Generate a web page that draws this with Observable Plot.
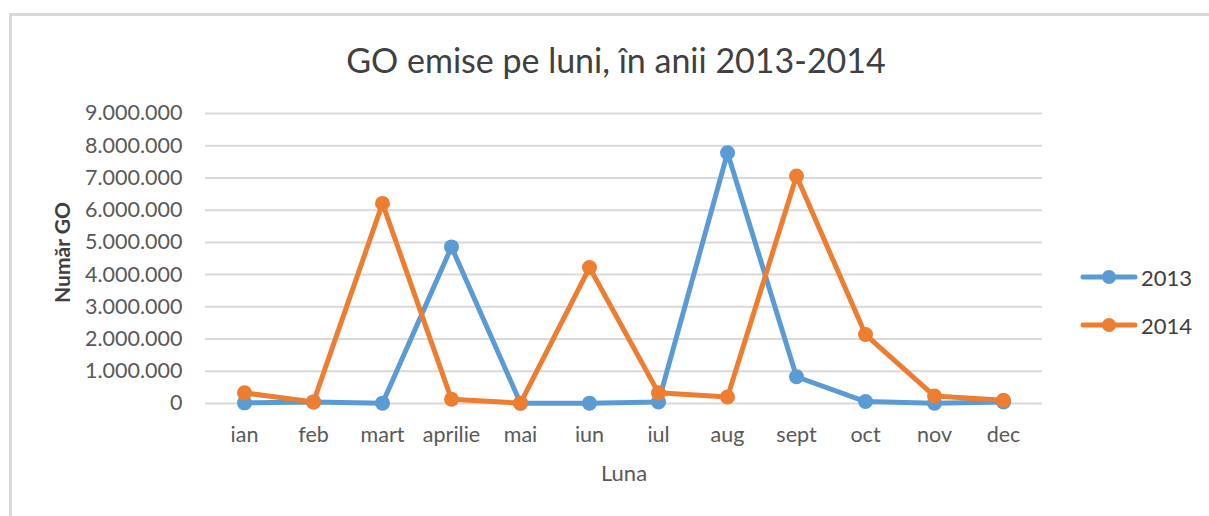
<!DOCTYPE html>
<html>
<head>
<meta charset="utf-8">
<script src="https://cdn.jsdelivr.net/npm/d3@7"></script>
<script src="https://cdn.jsdelivr.net/npm/@observablehq/plot@0.6"></script>
<style>
  html, body { margin: 0; padding: 0; background: #fff; }
  body { width: 1209px; height: 516px; position: relative; overflow: hidden; font-family: Lato, "Open Sans", sans-serif; }
  #frame { position: absolute; left: 9px; top: 13px; width: 1300px; height: 600px; border-top: 3px solid #d9d9d9; border-left: 3px solid #d9d9d9; box-sizing: border-box; }
  #title { position: absolute; left: 0; width: 1232px; top: 43px; text-align: center; font-size: 34px; color: #404040; line-height: 1; }
  #chart { position: absolute; left: 0; top: 0; }
  #legend { position: absolute; left: 1080px; top: 253px; font-size: 22px; color: #404040; }
  .item { display: flex; align-items: center; height: 48px; }
  .item svg { margin-right: 3px; }
</style>
</head>
<body>
<div id="frame"></div>
<div id="title">GO emise pe luni, în anii 2013-2014</div>
<div id="chart"></div>
<div id="legend"></div>
<script>
const months = ["ian","feb","mart","aprilie","mai","iun","iul","aug","sept","oct","nov","dec"];
const series = ["2013","2014"];
const values2013 = [20000, 50000, 10000, 4860000, 10000, 10000, 50000, 7780000, 830000, 60000, 10000, 50000];
const values2014 = [330000, 50000, 6210000, 130000, 10000, 4220000, 330000, 200000, 7060000, 2140000, 230000, 100000];
const colors = ["#5B9BD5", "#ED7D31"];
const yTicks = [0,1000000,2000000,3000000,4000000,5000000,6000000,7000000,8000000,9000000];

const data = [];
months.forEach((m, i) => {
  data.push({month: m, year: series[0], value: values2013[i]});
  data.push({month: m, year: series[1], value: values2014[i]});
});
const fmt = d => d3.format(",")(d).replace(/,/g, ".");

const marks = [
  Plot.gridY(yTicks, {stroke: "#d9d9d9", strokeOpacity: 1, strokeWidth: 2}),
  Plot.axisY(yTicks, {tickSize: 0, tickPadding: 23, tickFormat: fmt, fontSize: 21.5, fill: "#595959", label: null}),
  Plot.axisX({tickSize: 0, tickPadding: 23, fontSize: 21.5, fill: "#595959", label: null}),
  Plot.text(["Număr GO"], {frameAnchor: "left", textAnchor: "middle", dx: -142, dy: -6, rotate: -90, fontSize: 21, fontWeight: "bold", fill: "#404040"}),
  Plot.text(["Luna"], {frameAnchor: "bottom", dy: 77, fontSize: 22, fontWeight: "normal", fill: "#595959"})
];
series.forEach((s, k) => {
  const d = data.filter(r => r.year === s);
  marks.push(Plot.line(d, {x: "month", y: "value", stroke: colors[k], strokeWidth: 5, strokeLinejoin: "round", strokeLinecap: "round"}));
  marks.push(Plot.dot(d, {x: "month", y: "value", fill: colors[k], r: 7.5}));
});

const chart = Plot.plot({
  width: 1209,
  height: 516,
  marginLeft: 205,
  marginRight: 167,
  marginTop: 113,
  marginBottom: 113,
  style: {fontFamily: "Lato, 'Open Sans', sans-serif", background: "transparent", overflow: "visible"},
  x: {type: "point", domain: months, padding: 0.5},
  y: {domain: [0, 9000000]},
  marks
});
document.getElementById("chart").appendChild(chart);

const legend = document.getElementById("legend");
series.forEach((s, k) => {
  const item = document.createElement("div");
  item.className = "item";
  item.innerHTML = `<svg width="58" height="16"><line x1="3" y1="8" x2="55" y2="8" stroke="${colors[k]}" stroke-width="5" stroke-linecap="round"/><circle cx="29" cy="8" r="7" fill="${colors[k]}"/></svg><span>${s}</span>`;
  legend.appendChild(item);
});
</script>
</body>
</html>
